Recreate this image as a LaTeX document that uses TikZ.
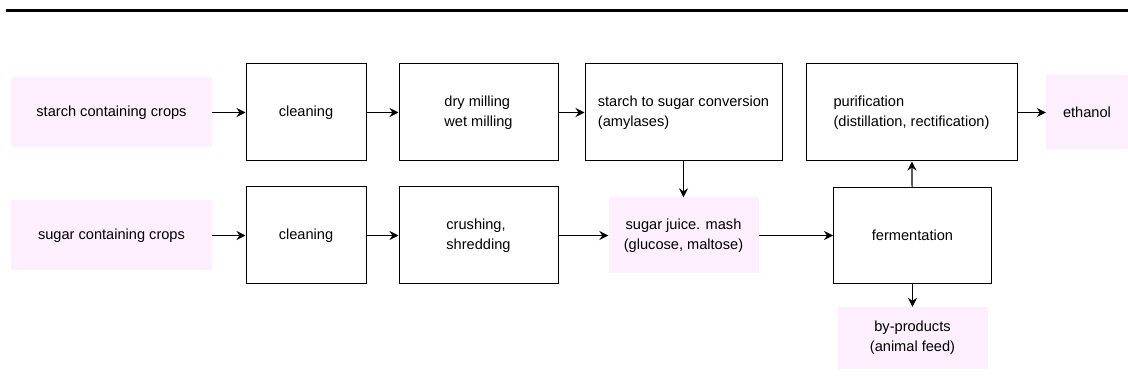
\documentclass[tikz,border=0pt]{standalone}
\usepackage{fontspec}
\setmainfont{Liberation Sans}
\usetikzlibrary{arrows.meta}
\definecolor{inout}{RGB}{253,239,253}
\begin{document}
\begin{tikzpicture}[x=1pt,y=-1pt,
  every node/.style={font=\fontsize{14.6}{20}\selectfont, inner sep=0pt, anchor=center},
  stage/.style={draw=black, line width=1pt, fill=white, rectangle, align=left},
  ends/.style={fill=inout, rectangle, align=center},
  flow/.style={line width=1.2pt, -{Stealth[length=9pt,width=9pt,inset=3pt]}}]
\useasboundingbox (0,0) rectangle (1128,379);
% rule across the top
\draw[line width=3pt] (6,11) -- (1128,11);

% raw materials
\node[ends, minimum width=201pt, minimum height=70pt] (starch) at (111.5,112.5) {starch containing crops};
\node[ends, minimum width=201pt, minimum height=70pt] (sugar) at (111.5,235.5) {sugar containing crops};

% starch line
\node[stage, minimum width=120pt, minimum height=97pt] (clean1) at (306,112.5) {cleaning};
\node[stage, minimum width=159pt, minimum height=97pt] (mill) at (478.5,112.5) {dry milling\\wet milling};
\node[stage, minimum width=197pt, minimum height=97pt] (conv) at (683.5,112.5) {starch to sugar conversion\\(amylases)};
\node[stage, minimum width=211pt, minimum height=97pt] (purif) at (911.5,112.5) {purification\\(distillation, rectification)};
\node[ends, minimum width=82pt, minimum height=74pt] (ethanol) at (1087,112.5) {ethanol};

% sugar line
\node[stage, minimum width=120pt, minimum height=97pt] (clean2) at (306,235.5) {cleaning};
\node[stage, minimum width=159pt, minimum height=97pt] (crush) at (478.5,235.5) {crushing,\\shredding};
\node[ends, minimum width=150pt, minimum height=76pt] (juice) at (683.5,235.5) {sugar juice. mash\\(glucose, maltose)};
\node[stage, minimum width=158pt, minimum height=96pt] (ferm) at (912.5,235.5) {fermentation};
\node[ends, minimum width=150pt, minimum height=62pt] (byprod) at (912.5,338) {by-products\\(animal feed)};

% connectors
\draw[flow] (starch) -- (clean1);
\draw[flow] (clean1) -- (mill);
\draw[flow] (mill) -- (conv);
\draw[flow] (conv) -- (juice);
\draw[flow] (purif) -- (ethanol);
\draw[flow] (sugar) -- (clean2);
\draw[flow] (clean2) -- (crush);
\draw[flow] (crush) -- (juice);
\draw[flow] (juice) -- (ferm);
\draw[flow] (ferm) -- (purif);
\draw[flow] (ferm) -- (byprod);
\end{tikzpicture}
\end{document}
